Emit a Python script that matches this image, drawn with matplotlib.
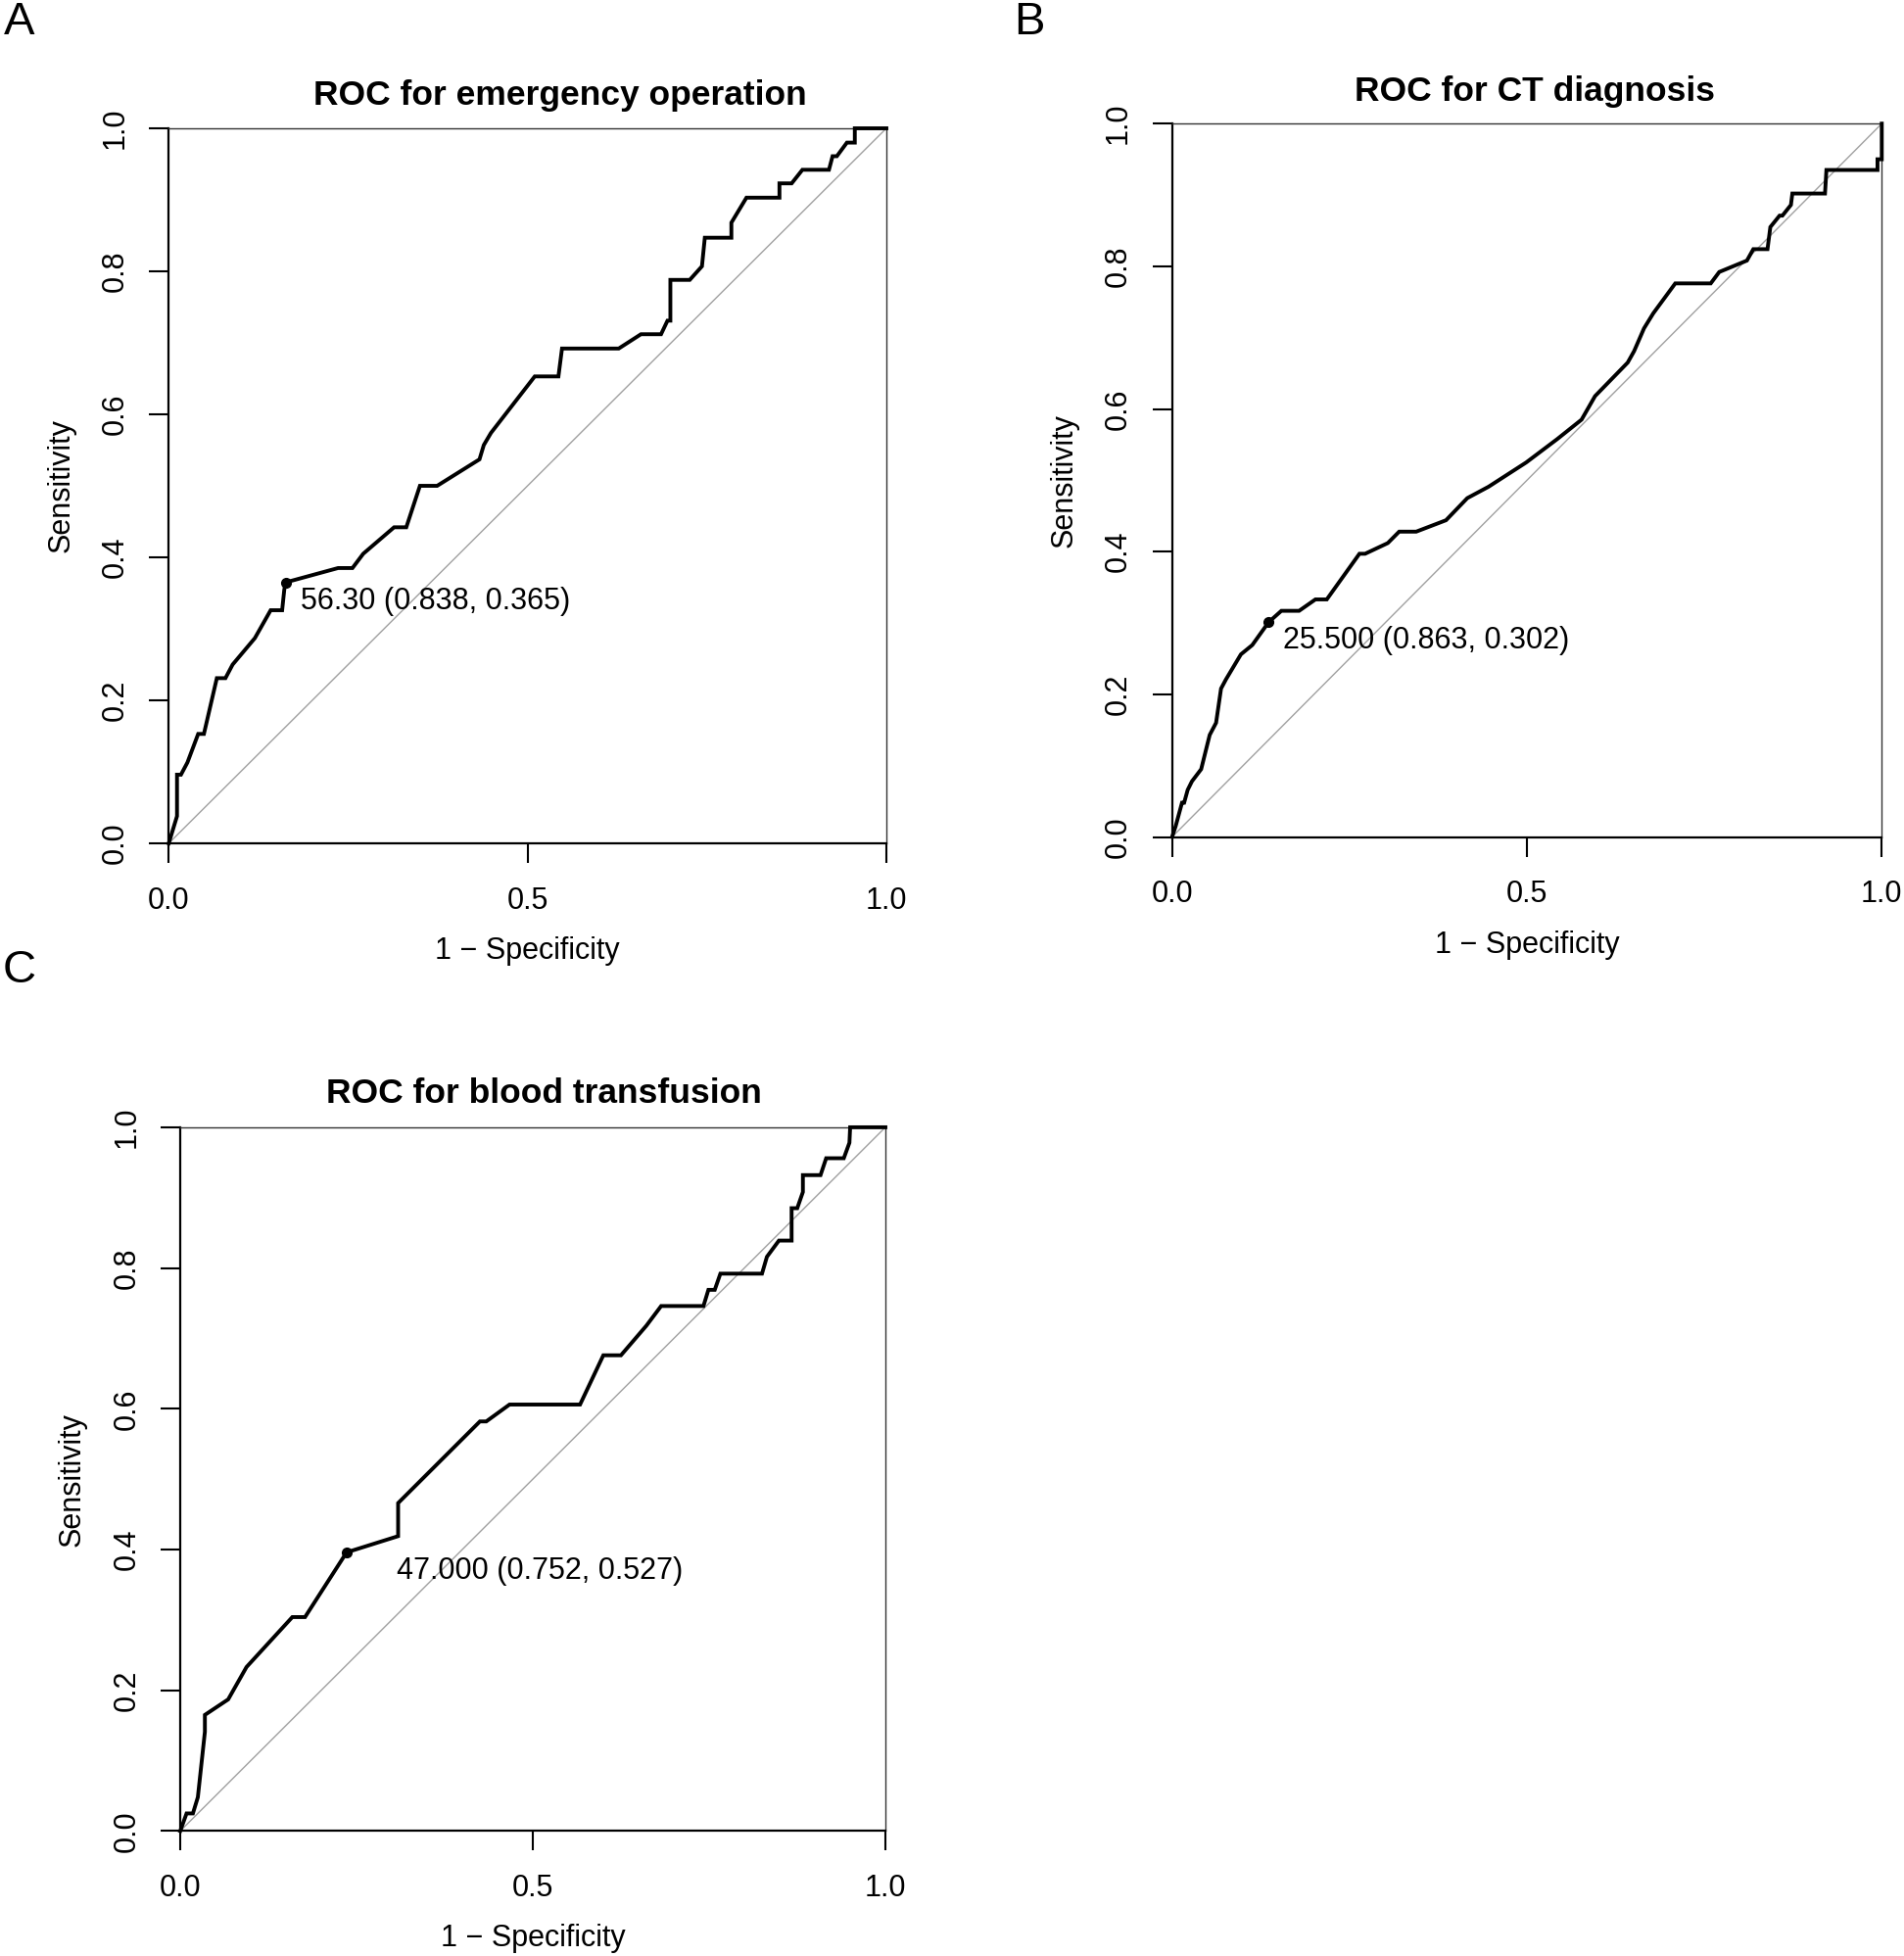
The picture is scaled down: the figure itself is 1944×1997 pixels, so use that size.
import matplotlib
matplotlib.use("Agg")
import matplotlib.pyplot as plt

plt.rcParams['font.family'] = ['Liberation Sans', 'DejaVu Sans']

# panel A - emergency operation
fpr_a = [0, 0.0115, 0.0115, 0.017, 0.026, 0.041, 0.049, 0.067, 0.079, 0.089,
         0.120, 0.142, 0.158, 0.161, 0.163, 0.236, 0.256, 0.271, 0.314, 0.331,
         0.350, 0.374, 0.433, 0.439, 0.449, 0.510, 0.543, 0.548, 0.627, 0.658,
         0.686, 0.695, 0.699, 0.699, 0.726, 0.743, 0.747, 0.784, 0.784, 0.805,
         0.851, 0.851, 0.868, 0.883, 0.920, 0.925, 0.931, 0.945, 0.956, 0.956, 1.0]
tpr_a = [0, 0.038, 0.096, 0.096, 0.113, 0.153, 0.153, 0.231, 0.231, 0.250,
         0.287, 0.326, 0.326, 0.355, 0.365, 0.385, 0.385, 0.405, 0.442, 0.442,
         0.500, 0.500, 0.537, 0.557, 0.574, 0.653, 0.653, 0.692, 0.692, 0.712,
         0.712, 0.731, 0.731, 0.788, 0.788, 0.807, 0.847, 0.847, 0.868, 0.903,
         0.903, 0.923, 0.923, 0.942, 0.942, 0.961, 0.961, 0.980, 0.980, 1.0, 1.0]

# panel B - CT diagnosis
fpr_b = [0, 0.005, 0.014, 0.017, 0.022, 0.028, 0.041, 0.053, 0.062, 0.069,
         0.076, 0.097, 0.113, 0.136, 0.154, 0.179, 0.202, 0.218, 0.264, 0.272,
         0.304, 0.320, 0.344, 0.386, 0.416, 0.446, 0.499, 0.543, 0.577, 0.596,
         0.642, 0.651, 0.665, 0.678, 0.709, 0.759, 0.771, 0.810, 0.819, 0.839,
         0.843, 0.856, 0.860, 0.872, 0.874, 0.920, 0.921, 0.922, 0.994, 0.994,
         1.0, 1.0]
tpr_b = [0, 0.015, 0.048, 0.048, 0.066, 0.078, 0.095, 0.143, 0.160, 0.208,
         0.221, 0.256, 0.269, 0.301, 0.317, 0.317, 0.333, 0.333, 0.397, 0.397,
         0.412, 0.428, 0.428, 0.444, 0.475, 0.491, 0.525, 0.558, 0.585, 0.618,
         0.665, 0.681, 0.713, 0.734, 0.776, 0.776, 0.792, 0.808, 0.824, 0.824,
         0.855, 0.871, 0.871, 0.886, 0.902, 0.902, 0.918, 0.935, 0.935, 0.950,
         0.950, 1.0]

# panel C - blood transfusion
fpr_c = [0, 0.009, 0.018, 0.025, 0.035, 0.035, 0.068, 0.094, 0.159, 0.177,
         0.236, 0.309, 0.309, 0.425, 0.434, 0.467, 0.567, 0.600, 0.625, 0.661,
         0.682, 0.742, 0.749, 0.758, 0.766, 0.825, 0.832, 0.849, 0.867, 0.867,
         0.875, 0.883, 0.883, 0.908, 0.916, 0.941, 0.949, 0.950, 1.0]
tpr_c = [0, 0.025, 0.025, 0.048, 0.141, 0.165, 0.187, 0.233, 0.304, 0.304,
         0.396, 0.419, 0.466, 0.582, 0.582, 0.606, 0.606, 0.676, 0.676, 0.718,
         0.746, 0.746, 0.769, 0.769, 0.792, 0.792, 0.816, 0.839, 0.839, 0.885,
         0.885, 0.908, 0.932, 0.932, 0.956, 0.956, 0.978, 1.0, 1.0]

titles = ["ROC for emergency operation", "ROC for CT diagnosis", "ROC for blood transfusion"]
letters = ["A", "B", "C"]
cut_x = [0.163, 0.136, 0.236]
cut_y = [0.365, 0.301, 0.396]
cut_labels = ["56.30 (0.838, 0.365)", "25.500 (0.863, 0.302)", "47.000 (0.752, 0.527)"]

xticks = [0.0, 0.5, 1.0]
xticklabels = ["0.0", "0.5", "1.0"]
yticks = [0.0, 0.2, 0.4, 0.6, 0.8, 1.0]
yticklabels = ["0.0", "0.2", "0.4", "0.6", "0.8", "1.0"]

W, H = 1944, 1997
fig = plt.figure(figsize=(W / 100, H / 100), dpi=100)

# axes boxes in pixels: x0, x1, ytop, ybottom
boxes = [(172.3, 905.0, 131.0, 861.0),
         (1196.7, 1921.3, 126.2, 854.5),
         (184.0, 904.0, 1150.9, 1869.4)]
title_pos = [(572, 97), (1567, 93), (555, 1117)]
letter_pos = [(20, 23), (1051, 23), (20, 991)]
# text offset from cut point, pixels (right, down to baseline)
text_off = [(15, 27), (15, 27), (51, 27)]

curves = [(fpr_a, tpr_a), (fpr_b, tpr_b), (fpr_c, tpr_c)]

for i in range(3):
    x0, x1, yt, yb = boxes[i]
    ax = fig.add_axes([x0 / W, (H - yb) / H, (x1 - x0) / W, (yb - yt) / H])
    fx, fy = curves[i]
    ax.plot([0, 1], [0, 1], color='#a0a0a0', lw=1.0, zorder=1)
    ax.plot(fx, fy, color='black', lw=2.8, solid_joinstyle='miter', zorder=3, clip_on=False)
    ax.plot([cut_x[i]], [cut_y[i]], 'o', color='black', ms=7, zorder=4)
    ax.annotate(cut_labels[i], (cut_x[i], cut_y[i]),
                xytext=(text_off[i][0] * 0.72, -text_off[i][1] * 0.72),
                textcoords='offset points', ha='left', va='baseline', fontsize=22)
    ax.set_xlim(0, 1)
    ax.set_ylim(0, 1)
    ax.set_xticks(xticks)
    ax.set_xticklabels(xticklabels)
    ax.set_yticks(yticks)
    ax.set_yticklabels(yticklabels, rotation=90, va='center')
    ax.tick_params(direction='out', length=14.5, width=1.5, labelsize=22)
    ax.tick_params(axis='x', pad=17)
    ax.tick_params(axis='y', pad=14)
    for s in ['left', 'bottom']:
        ax.spines[s].set_linewidth(1.6)
    for s in ['top', 'right']:
        ax.spines[s].set_linewidth(1.0)
        ax.spines[s].set_color('#333333')
    h = yb - yt
    ax.text(0.5, -110 / h, "1 \u2212 Specificity", transform=ax.transAxes,
            ha='center', va='center', fontsize=22)
    ax.text(-110 / (x1 - x0), 0.5, "Sensitivity", transform=ax.transAxes,
            ha='center', va='center', rotation=90, fontsize=22)
    fig.text(title_pos[i][0] / W, 1 - title_pos[i][1] / H, titles[i],
             ha='center', va='center', fontsize=25.5, fontweight='bold')
    fig.text(letter_pos[i][0] / W, 1 - letter_pos[i][1] / H, letters[i],
             ha='center', va='center', fontsize=34)

fig.savefig("out.png", dpi=100)
